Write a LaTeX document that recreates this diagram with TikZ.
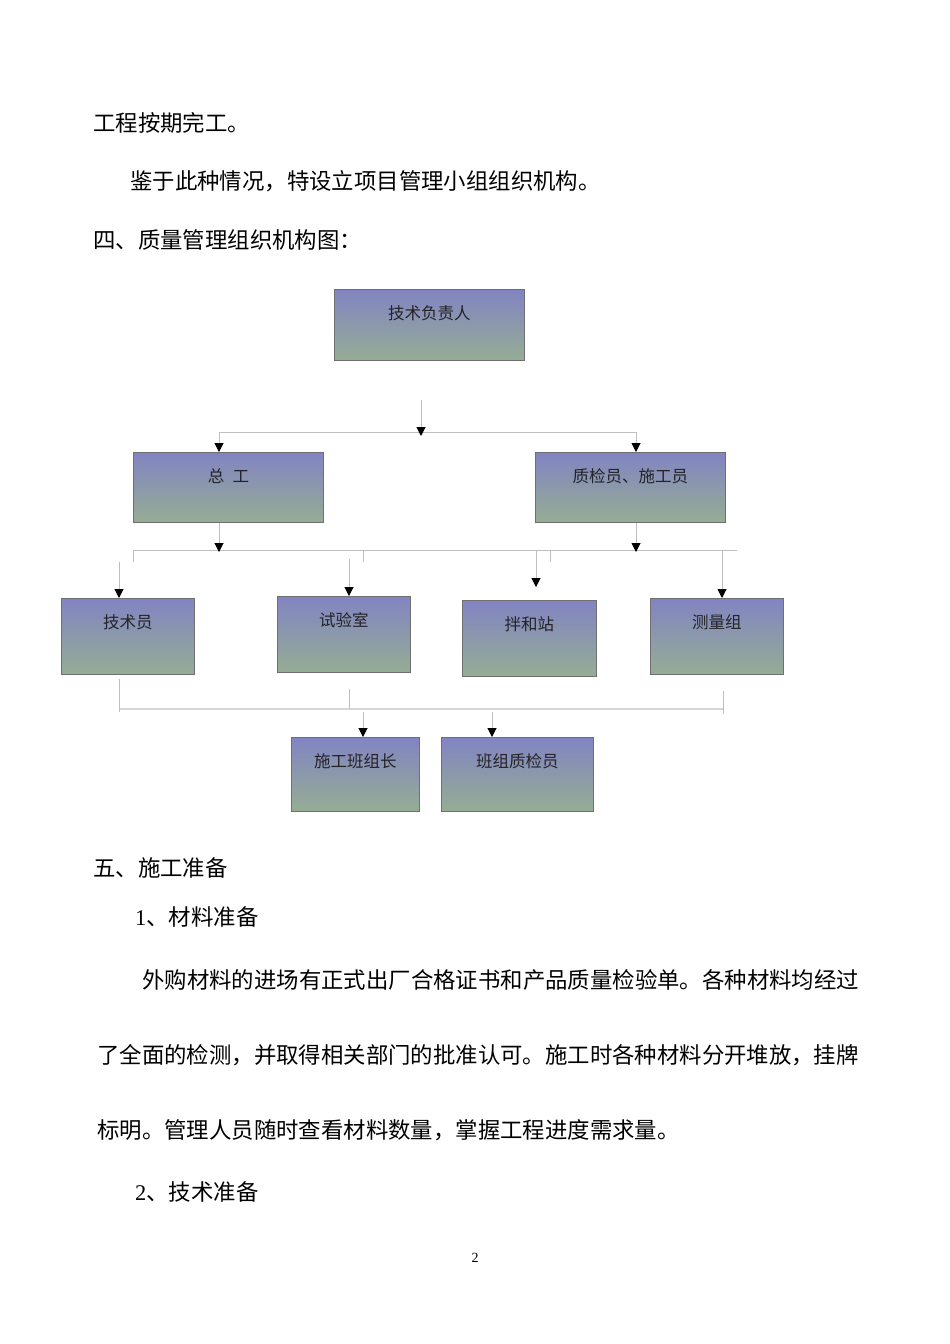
\documentclass[tikz,border=0pt]{standalone}
\usepackage{fontspec}
\setmainfont{Liberation Serif}
\newfontfamily\cjk{Noto Sans CJK SC}
\usetikzlibrary{arrows.meta,positioning}
\definecolor{boxtop}{RGB}{130,132,194}
\definecolor{boxbot}{RGB}{149,173,148}
\definecolor{boxline}{RGB}{112,112,112}
\definecolor{linkgray}{RGB}{190,190,190}
\definecolor{bargray}{RGB}{214,214,214}
\definecolor{inkgray}{RGB}{35,35,40}
\tikzset{
    orgbox/.style={
        draw=boxline,
        rectangle,
        line width=0.8pt,
        top color=boxtop,
        bottom color=boxbot,
        inner sep=0pt,
        text height=30pt,
        anchor=north west,
        font=\cjk\fontsize{16.5pt}{18pt}\selectfont,
        text=inkgray
    },
    bodytext/.style={
        anchor=base west,
        inner sep=0pt,
        font=\cjk\fontsize{22.4pt}{26pt}\selectfont,
        text=black
    },
    link/.style={
        draw=linkgray,
        line width=1pt
    },
    bar/.style={
        draw=bargray,
        line width=2pt
    },
    arr/.style={
        link,
        -{Triangle[width=9pt,length=9pt,color=black]}
    }
}

\begin{document}
\begin{tikzpicture}[x=1pt, y=-1pt]
\fill[white] (0,0) rectangle (950,1344);
\useasboundingbox (0,0) rectangle (950,1344);

% page text above the chart
\node[bodytext] (line1) at (93,131) {工程按期完工。};
\node[bodytext] (line2) at (130,189) {鉴于此种情况，特设立项目管理小组组织机构。};
\node[bodytext] (heading4) at (93,248) {四、质量管理组织机构图：};

% chart boxes
\node[orgbox, minimum width=190pt, text depth=41pt] (fuzeren) at (334,289) {技术负责人};
\node[orgbox, minimum width=190pt, text depth=40pt] (zonggong) at (133,452) {总\enspace 工};
\node[orgbox, minimum width=190pt, text depth=40pt] (zhijian) at (535,452) {质检员、施工员};
\node[orgbox, minimum width=133pt, text depth=46pt] (jishuyuan) at (61,598) {技术员};
\node[orgbox, minimum width=133pt, text depth=46pt] (shiyanshi) at (277,596) {试验室};
\node[orgbox, minimum width=134pt, text depth=46pt] (banhezhan) at (462,600) {拌和站};
\node[orgbox, minimum width=133pt, text depth=46pt] (celiang) at (650,598) {测量组};
\node[orgbox, minimum width=128pt, text depth=44pt] (banzuzhang) at (291,737) {施工班组长};
\node[orgbox, minimum width=152pt, text depth=44pt] (zhijianyuan) at (441,737) {班组质检员};

% first level
\coordinate (topstart) at (421,400);
\coordinate (topbarL) at (219,432);
\coordinate (topbarR) at (636,432);
\draw[link] (topbarL) -- (topbarR);
\draw[arr, shorten >=-4pt] (topstart) -- (topstart |- topbarL);
\draw[arr] (topbarL) -- (topbarL |- zonggong.north);
\draw[arr] (topbarR) -- (topbarR |- zhijian.north);

% second level
\coordinate (midbarL) at (133,550);
\coordinate (midbarR) at (737,550);
\draw[link] (midbarL) -- (midbarR);
\draw[arr, shorten >=-2pt] (zonggong.south -| topbarL) -- (topbarL |- midbarL);
\draw[arr, shorten >=-2pt] (zhijian.south -| topbarR) -- (topbarR |- midbarL);
\foreach \dx in {0,230,417}
    \draw[link] ([xshift=\dx pt]midbarL) -- ++(0,12);
\coordinate (jsy) at (119,562);
\coordinate (syb) at (349,559);
\coordinate (bhz) at (536,550);
\coordinate (clz) at (722,550);
\draw[arr] (jsy) -- (jsy |- jishuyuan.north);
\draw[arr] (syb) -- (syb |- shiyanshi.north);
\draw[arr] (bhz) -- ([yshift=13pt]bhz |- banhezhan.north);
\draw[arr] (clz) -- (clz |- celiang.north);

% third level
\coordinate (lowbarL) at (119,709);
\coordinate (lowbarR) at (723,709);
\draw[bar] (lowbarL) -- (lowbarR);
\draw[link] ([yshift=-4pt]jishuyuan.south -| lowbarL) -- ([yshift=-3pt]lowbarL);
\draw[link] ([yshift=-16pt]shiyanshi.south -| syb) -- (syb |- lowbarL);
\draw[link] ([yshift=-16pt]celiang.south -| lowbarR) -- ([yshift=-5pt]lowbarR);
\coordinate (bzz) at (363,712);
\coordinate (bzj) at (492,712);
\draw[arr] (bzz) -- (bzz |- banzuzhang.north);
\draw[arr] (bzj) -- (bzj |- zhijianyuan.north);

% page text below the chart
\node[bodytext] (heading5) at (93,876) {五、施工准备};
\node[bodytext] (item1) at (135,925) {{\rmfamily 1}、材料准备};
\node[bodytext] (para1) at (142,988) {外购材料的进场有正式出厂合格证书和产品质量检验单。各种材料均经过};
\node[bodytext] (para2) at (97,1063) {了全面的检测，并取得相关部门的批准认可。施工时各种材料分开堆放，挂牌};
\node[bodytext] (para3) at (97,1138) {标明。管理人员随时查看材料数量，掌握工程进度需求量。};
\node[bodytext] (item2) at (135,1200) {{\rmfamily 2}、技术准备};
\node[anchor=base, inner sep=0pt, font=\fontsize{14pt}{16pt}\selectfont] (pageno) at (475,1262) {2};
\end{tikzpicture}
\end{document}
